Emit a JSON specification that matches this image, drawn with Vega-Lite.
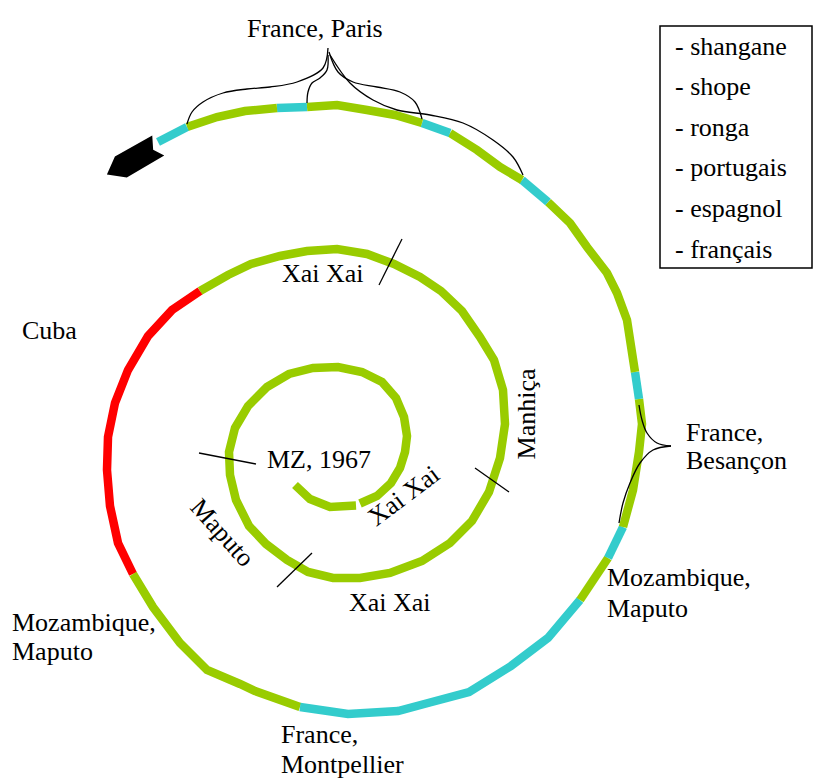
{
  "$schema": "https://vega.github.io/schema/vega-lite/v6.json",
  "width": 814,
  "height": 778,
  "padding": 0,
  "autosize": "none",
  "background": "white",
  "config": {"view": {"stroke": null}},
  "datasets": {
    "path": [
      {"run":1,"o":0,"x":295,"y":485,"c":"g"},{"run":1,"o":1,"x":310,"y":499,"c":"g"},{"run":1,"o":2,"x":330,"y":507,"c":"g"},{"run":1,"o":3,"x":356,"y":505.5,"c":"g"},
      {"run":2,"o":0,"x":360,"y":503.5,"c":"g"},{"run":2,"o":1,"x":377,"y":496,"c":"g"},{"run":2,"o":2,"x":391,"y":483,"c":"g"},{"run":2,"o":3,"x":400,"y":468,"c":"g"},{"run":2,"o":4,"x":405,"y":452,"c":"g"},{"run":2,"o":5,"x":407,"y":436,"c":"g"},{"run":2,"o":6,"x":404,"y":417,"c":"g"},{"run":2,"o":7,"x":396,"y":398,"c":"g"},{"run":2,"o":8,"x":382,"y":382,"c":"g"},{"run":2,"o":9,"x":362,"y":372,"c":"g"},{"run":2,"o":10,"x":338,"y":367,"c":"g"},{"run":2,"o":11,"x":313,"y":368,"c":"g"},{"run":2,"o":12,"x":289,"y":374,"c":"g"},{"run":2,"o":13,"x":267,"y":387,"c":"g"},{"run":2,"o":14,"x":248,"y":406,"c":"g"},{"run":2,"o":15,"x":235,"y":428,"c":"g"},{"run":2,"o":16,"x":229,"y":452,"c":"g"},{"run":2,"o":17,"x":230,"y":475,"c":"g"},{"run":2,"o":18,"x":236,"y":500,"c":"g"},{"run":2,"o":19,"x":249,"y":526,"c":"g"},{"run":2,"o":20,"x":266,"y":544,"c":"g"},{"run":2,"o":21,"x":287,"y":560,"c":"g"},{"run":2,"o":22,"x":308,"y":572,"c":"g"},{"run":2,"o":23,"x":333,"y":578,"c":"g"},{"run":2,"o":24,"x":360,"y":578,"c":"g"},{"run":2,"o":25,"x":390,"y":573,"c":"g"},{"run":2,"o":26,"x":422,"y":561,"c":"g"},{"run":2,"o":27,"x":450,"y":543,"c":"g"},{"run":2,"o":28,"x":472,"y":521,"c":"g"},{"run":2,"o":29,"x":489,"y":492,"c":"g"},{"run":2,"o":30,"x":500,"y":458,"c":"g"},{"run":2,"o":31,"x":505,"y":424,"c":"g"},{"run":2,"o":32,"x":503,"y":390,"c":"g"},{"run":2,"o":33,"x":494,"y":360,"c":"g"},{"run":2,"o":34,"x":480,"y":337,"c":"g"},{"run":2,"o":35,"x":462,"y":311,"c":"g"},{"run":2,"o":36,"x":441,"y":291,"c":"g"},{"run":2,"o":37,"x":420,"y":277,"c":"g"},{"run":2,"o":38,"x":394,"y":264,"c":"g"},{"run":2,"o":39,"x":367,"y":254,"c":"g"},{"run":2,"o":40,"x":337,"y":249,"c":"g"},{"run":2,"o":41,"x":307,"y":251,"c":"g"},{"run":2,"o":42,"x":280,"y":256,"c":"g"},{"run":2,"o":43,"x":251,"y":264,"c":"g"},{"run":2,"o":44,"x":228,"y":275,"c":"g"},{"run":2,"o":45,"x":200,"y":291,"c":"g"},
      {"run":3,"o":0,"x":200,"y":291,"c":"r"},{"run":3,"o":1,"x":172,"y":310,"c":"r"},{"run":3,"o":2,"x":148,"y":336,"c":"r"},{"run":3,"o":3,"x":128,"y":370,"c":"r"},{"run":3,"o":4,"x":115,"y":403,"c":"r"},{"run":3,"o":5,"x":108,"y":437,"c":"r"},{"run":3,"o":6,"x":107,"y":470,"c":"r"},{"run":3,"o":7,"x":110,"y":506,"c":"r"},{"run":3,"o":8,"x":118,"y":543,"c":"r"},{"run":3,"o":9,"x":133,"y":574,"c":"r"},
      {"run":4,"o":0,"x":133,"y":574,"c":"g"},{"run":4,"o":1,"x":153,"y":607,"c":"g"},{"run":4,"o":2,"x":180,"y":643,"c":"g"},{"run":4,"o":3,"x":207,"y":670,"c":"g"},{"run":4,"o":4,"x":240,"y":684,"c":"g"},{"run":4,"o":5,"x":255,"y":691,"c":"g"},{"run":4,"o":6,"x":300,"y":707,"c":"g"},
      {"run":5,"o":0,"x":300,"y":707,"c":"c"},{"run":5,"o":1,"x":348,"y":714,"c":"c"},{"run":5,"o":2,"x":398,"y":711,"c":"c"},{"run":5,"o":3,"x":428,"y":703,"c":"c"},{"run":5,"o":4,"x":469,"y":692,"c":"c"},{"run":5,"o":5,"x":511,"y":666,"c":"c"},{"run":5,"o":6,"x":548,"y":638,"c":"c"},{"run":5,"o":7,"x":580,"y":600,"c":"c"},
      {"run":6,"o":0,"x":580,"y":600,"c":"g"},{"run":6,"o":1,"x":608,"y":558,"c":"g"},
      {"run":7,"o":0,"x":608,"y":558,"c":"c"},{"run":7,"o":1,"x":623,"y":527,"c":"c"},
      {"run":8,"o":0,"x":623,"y":527,"c":"g"},{"run":8,"o":1,"x":633,"y":490,"c":"g"},{"run":8,"o":2,"x":639,"y":452,"c":"g"},{"run":8,"o":3,"x":642,"y":424,"c":"g"},{"run":8,"o":4,"x":639,"y":399,"c":"g"},
      {"run":9,"o":0,"x":639,"y":399,"c":"c"},{"run":9,"o":1,"x":635,"y":372,"c":"c"},
      {"run":10,"o":0,"x":635,"y":372,"c":"g"},{"run":10,"o":1,"x":627,"y":320,"c":"g"},{"run":10,"o":2,"x":617,"y":293,"c":"g"},{"run":10,"o":3,"x":607,"y":273,"c":"g"},{"run":10,"o":4,"x":587,"y":247,"c":"g"},{"run":10,"o":5,"x":570,"y":223,"c":"g"},{"run":10,"o":6,"x":548,"y":202,"c":"g"},
      {"run":11,"o":0,"x":548,"y":202,"c":"c"},{"run":11,"o":1,"x":522,"y":180,"c":"c"},
      {"run":12,"o":0,"x":522,"y":180,"c":"g"},{"run":12,"o":1,"x":500,"y":167,"c":"g"},{"run":12,"o":2,"x":477,"y":150,"c":"g"},{"run":12,"o":3,"x":450,"y":133,"c":"g"},
      {"run":13,"o":0,"x":450,"y":133,"c":"c"},{"run":13,"o":1,"x":422,"y":123,"c":"c"},
      {"run":14,"o":0,"x":422,"y":123,"c":"g"},{"run":14,"o":1,"x":395,"y":115,"c":"g"},{"run":14,"o":2,"x":367,"y":110,"c":"g"},{"run":14,"o":3,"x":337,"y":105,"c":"g"},{"run":14,"o":4,"x":307,"y":107,"c":"g"},
      {"run":15,"o":0,"x":307,"y":107,"c":"c"},{"run":15,"o":1,"x":277,"y":108,"c":"c"},
      {"run":16,"o":0,"x":277,"y":108,"c":"g"},{"run":16,"o":1,"x":245,"y":111,"c":"g"},{"run":16,"o":2,"x":217,"y":117,"c":"g"},{"run":16,"o":3,"x":187,"y":127,"c":"g"},
      {"run":17,"o":0,"x":187,"y":127,"c":"c"},{"run":17,"o":1,"x":158,"y":142,"c":"c"}
    ],
    "ticks": [
      {"x":402,"y":239,"x2":379,"y2":285},
      {"x":199,"y":453,"x2":256,"y2":464},
      {"x":475,"y":468,"x2":509,"y2":492},
      {"x":312,"y":553,"x2":277,"y2":587}
    ],
    "curves": [
      {"id":"a","o":0,"x":328,"y":48},{"id":"a","o":1,"x":323,"y":68},{"id":"a","o":2,"x":297,"y":82},{"id":"a","o":3,"x":270,"y":87},{"id":"a","o":4,"x":247,"y":89},{"id":"a","o":5,"x":223,"y":93},{"id":"a","o":6,"x":203,"y":102},{"id":"a","o":7,"x":192,"y":112},{"id":"a","o":8,"x":187,"y":124},
      {"id":"b","o":0,"x":328,"y":55},{"id":"b","o":1,"x":327,"y":70},{"id":"b","o":2,"x":320,"y":78},{"id":"b","o":3,"x":312,"y":83},{"id":"b","o":4,"x":308,"y":92},{"id":"b","o":5,"x":307,"y":103},
      {"id":"c","o":0,"x":329,"y":52},{"id":"c","o":1,"x":338,"y":72},{"id":"c","o":2,"x":353,"y":82},{"id":"c","o":3,"x":377,"y":87},{"id":"c","o":4,"x":400,"y":92},{"id":"c","o":5,"x":415,"y":102},{"id":"c","o":6,"x":422,"y":119},
      {"id":"d","o":0,"x":330,"y":55},{"id":"d","o":1,"x":350,"y":83},{"id":"d","o":2,"x":373,"y":100},{"id":"d","o":3,"x":397,"y":110},{"id":"d","o":4,"x":430,"y":115},{"id":"d","o":5,"x":463,"y":123},{"id":"d","o":6,"x":493,"y":140},{"id":"d","o":7,"x":513,"y":157},{"id":"d","o":8,"x":523,"y":175},
      {"id":"e","o":0,"x":639,"y":405},{"id":"e","o":1,"x":642,"y":420},{"id":"e","o":2,"x":647,"y":433},{"id":"e","o":3,"x":657,"y":443},{"id":"e","o":4,"x":671,"y":446},
      {"id":"f","o":0,"x":671,"y":446},{"id":"f","o":1,"x":653,"y":450},{"id":"f","o":2,"x":640,"y":463},{"id":"f","o":3,"x":630,"y":483},{"id":"f","o":4,"x":623,"y":503},{"id":"f","o":5,"x":619,"y":523}
    ],
    "labels": [
      {"x":247,"y":37,"t":"France, Paris"},
      {"x":675,"y":55,"t":"- shangane"},
      {"x":675,"y":95,"t":"- shope"},
      {"x":675,"y":136,"t":"- ronga"},
      {"x":675,"y":176,"t":"- portugais"},
      {"x":675,"y":217,"t":"- espagnol"},
      {"x":675,"y":258,"t":"- français"},
      {"x":22,"y":339,"t":"Cuba"},
      {"x":282,"y":282,"t":"Xai Xai"},
      {"x":267,"y":468,"t":"MZ, 1967"},
      {"x":349,"y":611,"t":"Xai Xai"},
      {"x":686,"y":441,"t":"France,"},
      {"x":686,"y":469,"t":"Besançon"},
      {"x":607,"y":586,"t":"Mozambique,"},
      {"x":607,"y":617,"t":"Maputo"},
      {"x":12,"y":631,"t":"Mozambique,"},
      {"x":12,"y":660,"t":"Maputo"},
      {"x":281,"y":743,"t":"France,"},
      {"x":281,"y":773,"t":"Montpellier"}
    ],
    "rotlabels": [
      {"x":404,"y":496,"t":"Xai Xai","a":-37},
      {"x":222,"y":533,"t":"Maputo","a":48},
      {"x":527,"y":414,"t":"Manhiça","a":-90}
    ],
    "box": [{"x":660,"y":26,"x2":812,"y2":268}],
    "arrow": [{"x":134,"y":160}]
  },
  "encoding": {
    "x": {"field":"x","type":"quantitative","scale":{"domain":[0,814],"nice":false,"zero":false},"axis":null},
    "y": {"field":"y","type":"quantitative","scale":{"domain":[0,778],"reverse":true,"nice":false,"zero":false},"axis":null}
  },
  "layer": [
    {
      "data": {"name":"path"},
      "mark": {"type":"line","strokeWidth":8.5,"strokeCap":"butt","strokeJoin":"miter"},
      "encoding": {
        "detail": {"field":"run","type":"nominal"},
        "order": {"field":"o","type":"quantitative"},
        "color": {"field":"c","type":"nominal","scale":{"domain":["g","c","r"],"range":["#99cc00","#33cccc","#ff0000"]},"legend":null}
      }
    },
    {
      "data": {"name":"arrow"},
      "mark": {"type":"point","shape":"M0.99,0L0.47,-0.39L-0.93,-0.33L-0.7,0L-0.89,0.42L0.49,0.39Z","angle":152,"size":3844,"filled":true,"color":"black","opacity":1,"strokeWidth":0},
      "encoding": {}
    },
    {
      "data": {"name":"ticks"},
      "mark": {"type":"rule","color":"black","strokeWidth":1.3},
      "encoding": {"x2": {"field":"x2"}, "y2": {"field":"y2"}}
    },
    {
      "data": {"name":"curves"},
      "mark": {"type":"line","interpolate":"catmull-rom","color":"black","strokeWidth":1.3},
      "encoding": {"detail": {"field":"id"}, "order": {"field":"o","type":"quantitative"}}
    },
    {
      "data": {"name":"box"},
      "mark": {"type":"rect","fillOpacity":0,"stroke":"black","strokeWidth":1.5},
      "encoding": {"x2": {"field":"x2"}, "y2": {"field":"y2"}}
    },
    {
      "data": {"name":"labels"},
      "mark": {"type":"text","font":"Liberation Serif","fontSize":26,"align":"left","baseline":"alphabetic","color":"black"},
      "encoding": {"text": {"field":"t"}}
    },
    {
      "data": {"name":"rotlabels"},
      "mark": {"type":"text","font":"Liberation Serif","fontSize":26,"align":"center","baseline":"middle","color":"black"},
      "encoding": {"text": {"field":"t"}, "angle": {"field":"a","type":"quantitative","scale":null}}
    }
  ]
}
